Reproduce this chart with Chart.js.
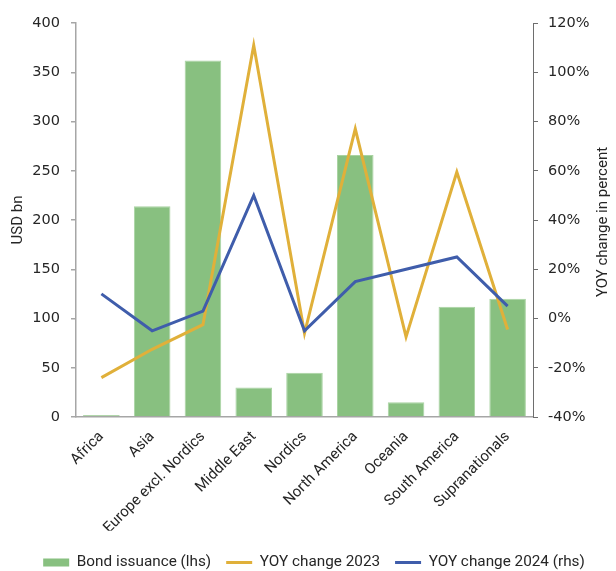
<!DOCTYPE html>
<html>
<head>
<meta charset="utf-8">
<script src="https://cdn.jsdelivr.net/npm/chart.js@4/dist/chart.umd.min.js"></script>
<style>
  html, body { margin: 0; padding: 0; background: #fff; }
  #wrap { width: 616px; height: 571px; position: relative; }
</style>
</head>
<body>
<div id="wrap"><canvas id="c" width="616" height="571"></canvas></div>
<script>
// Regions on the category axis
const regions = ['Africa', 'Asia', 'Europe excl. Nordics', 'Middle East', 'Nordics',
  'North America', 'Oceania', 'South America', 'Supranationals'];
// Bond issuance, USD bn (left axis)
const issuance = [2, 214, 362, 30, 45, 266, 15, 112, 120];
// Year-over-year change, percent (right axis)
const yoy2023 = [-24, -12.5, -2.5, 111, -6, 77, -7.5, 59.5, -4.5];
const yoy2024 = [10, -5, 3, 50, -5, 15, 20, 25, 5];
// Axis tick ranges
const leftTicks = { min: 0, max: 400, step: 50 };
const rightTicks = { min: -40, max: 120, step: 20 };

const FONT = 'Roboto';
const NUM_FONT = 'DejaVu Sans';
const TEXT = '#262626';
const GREEN = '#88c080';
const GOLD = '#e0b03a';
const BLUE = '#3f5dab';
const LEGEND_ORDER = ['Bond issuance (lhs)', 'YOY change 2023', 'YOY change 2024 (rhs)'];

// Keeps the legend row at a fixed height near the bottom edge
const legendRow = {
  id: 'legendRow',
  afterLayout(chart) {
    const lg = chart.legend;
    if (!lg) return;
    const shift = 560 - (lg.top + lg.height / 2);
    lg.top += shift;
    lg.bottom += shift;
  }
};

// Right-hand axis title, written bottom-to-top
const rightTitle = {
  id: 'rightTitle',
  afterDraw(chart) {
    const s = chart.scales.y1;
    const ctx = chart.ctx;
    ctx.save();
    ctx.translate(603, (s.top + s.bottom) / 2 + 2);
    ctx.rotate(-Math.PI / 2);
    ctx.font = '15px ' + FONT;
    ctx.fillStyle = TEXT;
    ctx.textAlign = 'center';
    ctx.textBaseline = 'middle';
    ctx.fillText('YOY change in percent', 0, 0);
    ctx.restore();
  }
};

new Chart(document.getElementById('c'), {
  data: {
    labels: regions,
    datasets: [
      { type: 'line', label: 'YOY change 2023', data: yoy2023, yAxisID: 'y1',
        borderColor: GOLD, backgroundColor: GOLD, borderWidth: 3, pointRadius: 0,
        tension: 0, order: 1 },
      { type: 'line', label: 'YOY change 2024 (rhs)', data: yoy2024, yAxisID: 'y1',
        borderColor: BLUE, backgroundColor: BLUE, borderWidth: 3, pointRadius: 0,
        tension: 0, order: 0 },
      { type: 'bar', label: 'Bond issuance (lhs)', data: issuance, yAxisID: 'y',
        backgroundColor: GREEN, borderColor: '#a9d3a2', borderWidth: 1,
        barPercentage: 0.9, categoryPercentage: 0.8, order: 2 }
    ]
  },
  options: {
    responsive: false,
    animation: false,
    layout: { padding: { top: 23, right: 0, bottom: 0, left: 12 } },
    plugins: {
      tooltip: { enabled: false },
      legend: {
        position: 'bottom',
        labels: {
          font: { family: FONT, size: 15.3 },
          color: TEXT,
          padding: 15,
          boxWidth: 26,
          boxHeight: 8,
          usePointStyle: true,
          pointStyleWidth: 26,
          sort: (a, b) => LEGEND_ORDER.indexOf(a.text) - LEGEND_ORDER.indexOf(b.text),
          generateLabels(chart) {
            return chart.data.datasets.map((ds, i) => {
              const isBar = ds.type === 'bar';
              return {
                text: ds.label,
                datasetIndex: i,
                fillStyle: isBar ? GREEN : ds.borderColor,
                strokeStyle: isBar ? GREEN : ds.borderColor,
                lineWidth: isBar ? 0 : 3,
                pointStyle: isBar ? 'rect' : 'line',
                fontColor: TEXT,
                hidden: false
              };
            });
          }
        }
      }
    },
    scales: {
      x: {
        type: 'category',
        offset: true,
        grid: { display: false, drawTicks: false },
        border: { display: true, color: '#a6a6a6', width: 1.5 },
        ticks: {
          autoSkip: false, maxRotation: 45, minRotation: 45,
          font: { family: FONT, size: 15 }, color: TEXT, padding: 11
        },
        afterFit(scale) {
          const lg = scale.chart.legend;
          scale.height = 571 - 417 - (lg ? lg.height : 0);
        }
      },
      y: {
        position: 'left',
        min: leftTicks.min, max: leftTicks.max,
        grid: { drawOnChartArea: false, drawTicks: true, tickLength: 5, color: '#a6a6a6', lineWidth: 1.5 },
        border: { display: true, color: '#a6a6a6', width: 1.5 },
        ticks: { stepSize: leftTicks.step, font: { family: NUM_FONT, size: 14.5 }, color: TEXT, padding: 11 },
        title: { display: true, text: 'USD bn', font: { family: FONT, size: 15 }, color: TEXT,
                 padding: { top: -3, bottom: 0 } },
        afterFit(scale) { scale.width = 64; }
      },
      y1: {
        position: 'right',
        min: rightTicks.min, max: rightTicks.max,
        grid: { drawOnChartArea: false, drawTicks: true, tickLength: 5, color: '#6e6e6e', lineWidth: 1 },
        border: { display: true, color: '#6e6e6e', width: 1 },
        ticks: { stepSize: rightTicks.step, font: { family: NUM_FONT, size: 14.5 }, color: TEXT, padding: 10,
                 callback: v => v + '%' },
        afterFit(scale) { scale.width = 83; }
      }
    }
  },
  plugins: [legendRow, rightTitle]
});
</script>
</body>
</html>
